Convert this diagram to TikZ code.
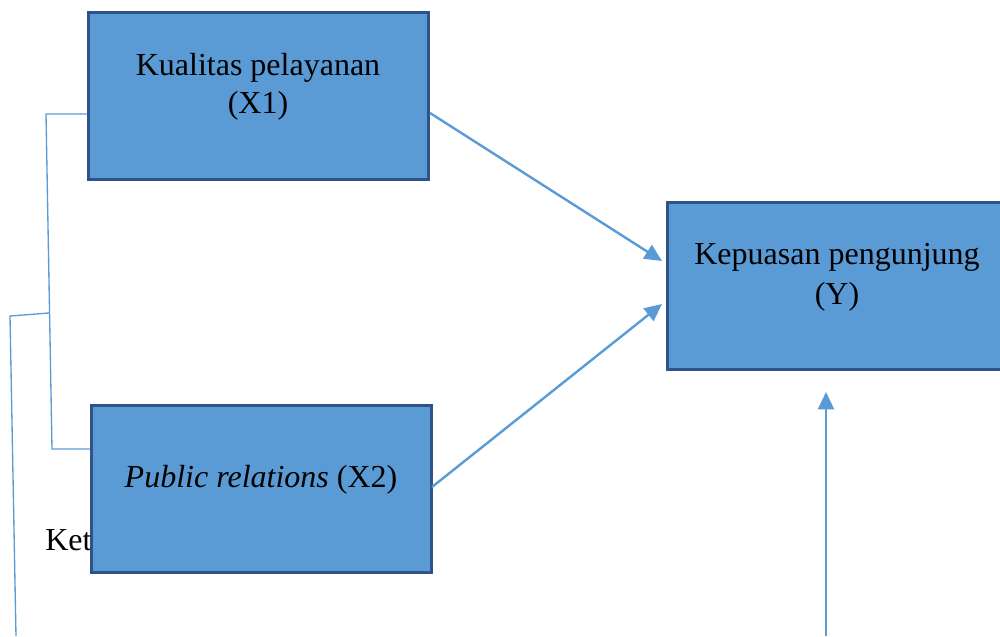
\documentclass[tikz,border=0pt]{standalone}
\usepackage{fontspec}
\setmainfont{Liberation Serif}
\usetikzlibrary{arrows.meta}
\definecolor{boxfill}{HTML}{5B9BD5}
\definecolor{boxline}{HTML}{2F5388}
\definecolor{conn}{HTML}{5B9BD5}
\begin{document}
\begin{tikzpicture}[x=0.75pt,y=-0.75pt,
  varbox/.style={draw=boxline,line width=2.2pt,fill=boxfill,anchor=north west,inner sep=0pt},
  lbl/.style={font=\fontsize{24}{27.75}\selectfont,align=center,inner sep=0pt,anchor=base},
  thin/.style={draw=conn,line width=1pt},
  arr/.style={draw=conn,line width=1.8pt,-{Triangle[length=13pt,width=12pt]}}]
\useasboundingbox (0,0) rectangle (1000,636);
\clip (0,0) rectangle (1000,636);
% Ket text (partly hidden by the box)
\node[lbl,anchor=base west] (ket) at (45,550) {Ket};
% boxes
\node[varbox,minimum width=255pt,minimum height=125pt] (x1) at (87,11) {};
\node[varbox,minimum width=255pt,minimum height=125pt] (x2) at (90,404) {};
\node[varbox,minimum width=256pt,minimum height=125pt] (y) at (666,201) {};
% labels
\node[lbl] (tx1a) at (258,75) {Kualitas pelayanan};
\node[lbl] (tx1b) at (258,113) {(X1)};
\node[lbl] (tx2) at (261,487) {\textit{Public relations} (X2)};
\node[lbl] (tya) at (837,264) {Kepuasan pengunjung};
\node[lbl] (tyb) at (837,304) {(Y)};
% bracket coordinates
\coordinate (b1) at (46,114);
\coordinate (b2) at (52,449);
\coordinate (bm) at (49,313);
\coordinate (c1) at (10,316);
\coordinate (c2) at (16,636);
\draw[thin] (x1.west |- b1) -- (b1) -- (b2) -- (x2.west |- b2);
\draw[thin] (bm) -- (c1) -- (c2);
% arrows
\coordinate (a1s) at (430,113);
\coordinate (a1e) at (662,261);
\coordinate (a2s) at (432,487);
\coordinate (a2e) at (662,304);
\coordinate (a3s) at (826,636);
\coordinate (a3e) at (826,392);
\draw[arr] (a1s) -- (a1e);
\draw[arr] (a2s) -- (a2e);
\draw[arr] (a3s) -- (a3e);
\end{tikzpicture}
\end{document}
